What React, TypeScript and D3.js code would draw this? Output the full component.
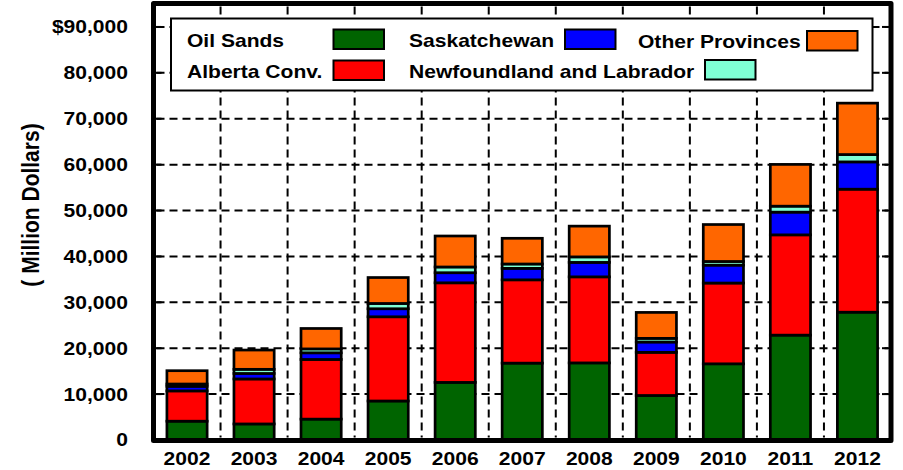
import React from 'react';
import * as d3 from 'd3';

const years = ['2002', '2003', '2004', '2005', '2006', '2007', '2008', '2009', '2010', '2011', '2012'];
const oilSands = [4100, 3500, 4550, 8500, 12550, 16750, 16800, 9700, 16600, 22850, 27850];
const albertaConv = [6600, 9800, 13000, 18350, 21700, 18150, 18750, 9400, 17600, 21850, 26800];
const saskatchewan = [1000, 1200, 1450, 1750, 2200, 2500, 3150, 2250, 3900, 4950, 5950];
const newfoundland = [500, 900, 850, 1150, 1250, 950, 1200, 800, 800, 1300, 1600];
const otherProvinces = [2900, 4200, 4450, 5650, 6750, 5600, 6700, 5650, 8050, 9100, 11200];
const seriesNames = ['Oil Sands', 'Alberta Conv.', 'Saskatchewan', 'Newfoundland and Labrador', 'Other Provinces'];
const seriesColors = ['#006400', '#ff0000', '#0000ff', '#7fffd4', '#ff6600'];
const yTicks = [0, 10000, 20000, 30000, 40000, 50000, 60000, 70000, 80000, 90000];
const yTickLabels = ['0', '10,000', '20,000', '30,000', '40,000', '50,000', '60,000', '70,000', '80,000', '$90,000'];
const yLabel = '( Million Dollars)';

const W = 903;
const H = 470;
const left = 153.5;
const right = 891;
const top = 3.5;
const bottom = 440.5;
const SX = 1.17;
const FONT = "'Liberation Sans', Arial, sans-serif";

export default function App() {
  const x = d3.scaleBand<string>().domain(years).range([left, right]).paddingInner(0.4).paddingOuter(0.2);
  const y = d3.scaleLinear().domain([0, 95000]).range([440, 4]);
  const rows = years.map((yr, i) => ({
    year: yr,
    s0: oilSands[i],
    s1: albertaConv[i],
    s2: saskatchewan[i],
    s3: newfoundland[i],
    s4: otherProvinces[i],
  }));
  const keys = ['s0', 's1', 's2', 's3', 's4'];
  const stacked = d3.stack<any>().keys(keys)(rows);
  const step = x.step();
  const boundaries = d3.range(1, years.length).map((i) => left + i * step);

  const legendItems = [
    { i: 0, tx: 187, ty: 47, sx: 333.5, sy: 29.5 },
    { i: 1, tx: 187, ty: 77.5, sx: 333.5, sy: 60.5 },
    { i: 2, tx: 409, ty: 47, sx: 565, sy: 29.5 },
    { i: 3, tx: 409, ty: 77.5, sx: 705, sy: 60 },
    { i: 4, tx: 638, ty: 47.5, sx: 807, sy: 31 },
  ];

  return (
    <div style={{ position: 'fixed', left: 0, top: 0 }}>
      <svg width={W} height={H} style={{ display: 'block', background: '#fff' }}>
        {/* gridlines */}
        <g stroke="#000" strokeWidth={2} strokeDasharray="8,5" fill="none">
          {yTicks.slice(1).map((t) => (
            <line key={'h' + t} x1={left + 3} x2={right - 3} y1={y(t)} y2={y(t)} />
          ))}
          {boundaries.map((b, i) => (
            <line key={'v' + i} x1={b} x2={b} y1={top + 3} y2={bottom - 3} />
          ))}
        </g>
        {/* ticks */}
        <g stroke="#000" strokeWidth={2}>
          {yTicks.map((t) => (
            <g key={'t' + t}>
              <line x1={left} x2={left + 8} y1={y(t)} y2={y(t)} />
              <line x1={right - 9} x2={right} y1={y(t)} y2={y(t)} />
            </g>
          ))}
        </g>
        {/* bars */}
        {stacked.map((s, si) => (
          <g key={'s' + si} fill={seriesColors[si]} stroke="#000" strokeWidth={2.7}>
            {s.map((d: any, j: number) => (
              <rect
                key={j}
                x={x(d.data.year)}
                width={x.bandwidth()}
                y={y(d[1])}
                height={y(d[0]) - y(d[1])}
              />
            ))}
          </g>
        ))}
        {/* frame */}
        <rect
          x={left}
          y={top}
          width={right - left}
          height={bottom - top}
          fill="none"
          stroke="#000"
          strokeWidth={5}
          strokeLinejoin="round"
        />
        {/* legend */}
        <rect x={171} y={18.5} width={701.5} height={72} fill="#fff" stroke="#000" strokeWidth={2} />
        {legendItems.map((it) => (
          <g key={'l' + it.i}>
            <g transform={`translate(${it.tx},${it.ty}) scale(${SX},1)`}>
              <text x={0} y={0} fontFamily={FONT} fontWeight="bold" fontSize={18} fill="#000">
                {seriesNames[it.i]}
              </text>
            </g>
            <rect x={it.sx} y={it.sy} width={50.5} height={19.5} fill={seriesColors[it.i]} stroke="#000" strokeWidth={2} />
          </g>
        ))}
        {/* y tick labels */}
        {yTicks.map((t, i) => (
          <g key={'yl' + t} transform={`translate(128,${y(t)}) scale(${SX},1)`}>
            <text x={0} y={0} dy="0.36em" textAnchor="end" fontFamily={FONT} fontWeight="bold" fontSize={18} fill="#000">
              {yTickLabels[i]}
            </text>
          </g>
        ))}
        {/* x tick labels */}
        {years.map((yr) => (
          <g key={'xl' + yr} transform={`translate(${(x(yr) as number) + x.bandwidth() / 2},465) scale(${SX},1)`}>
            <text x={0} y={0} textAnchor="middle" fontFamily={FONT} fontWeight="bold" fontSize={18} fill="#000">
              {yr}
            </text>
          </g>
        ))}
        {/* y axis label */}
        <g transform={`translate(30,205) scale(${SX},1) rotate(-90)`}>
          <text x={0} y={0} dy="0.36em" textAnchor="middle" fontFamily={FONT} fontWeight="bold" fontSize={21} fill="#000">
            {yLabel}
          </text>
        </g>
      </svg>
    </div>
  );
}
